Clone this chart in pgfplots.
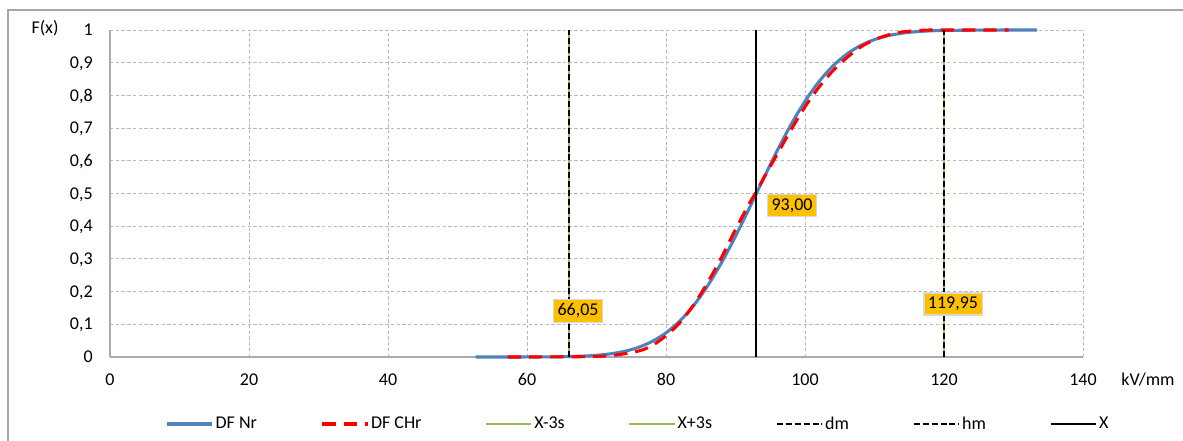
\documentclass[border=0pt]{standalone}
\usepackage{fontspec}
\setmainfont{Carlito}
\usepackage{pgfplots}
\pgfplotsset{compat=1.18}

\definecolor{nrblue}{RGB}{79,129,189}
\definecolor{olive3s}{RGB}{155,187,89}
\definecolor{lblgold}{RGB}{255,192,0}
\definecolor{lblborder}{RGB}{217,217,217}
\definecolor{framegray}{RGB}{166,166,166}
\definecolor{gridgray}{RGB}{185,185,185}
\definecolor{axisgray}{RGB}{170,170,170}

\newcommand{\chartfont}{\fontsize{13.5}{16}\selectfont}

\begin{document}
\begin{tikzpicture}[font=\chartfont]
\useasboundingbox (0,0) rectangle (887.25pt,-330.75pt);
% chart area frame
\draw[framegray, line width=1.1pt] (6pt,-330.75pt) -- (6pt,-7.5pt) -- (887.25pt,-7.5pt);

\begin{axis}[
  at={(82.5pt,-267.75pt)}, anchor=south west,
  scale only axis, width=729.75pt, height=245.25pt,
  xmin=0, xmax=140, ymin=0, ymax=1,
  xtick={0,20,40,60,80,100,120,140},
  ytick={0,0.1,0.2,0.3,0.4,0.5,0.6,0.7,0.8,0.9,1},
  major tick length=0pt,
  axis x line*=bottom, axis y line*=left,
  axis line style={axisgray, line width=0.8pt},
  grid=major,
  major grid style={gridgray, line width=0.6pt, dash pattern=on 2.5pt off 1.8pt},
  /pgf/number format/assume math mode=true,
  yticklabel style={/pgf/number format/use comma, /pgf/number format/fixed,
    /pgf/number format/precision=1},
  tick label style={font=\chartfont, inner sep=0pt},
  xticklabel style={anchor=base, yshift=-21.5pt},
  yticklabel style={anchor=base east, xshift=-12.75pt, yshift=-4.25pt},
  clip=false,
  legend columns=7,
  legend style={at={(axis description cs:0,0)}, anchor=west,
    xshift=41.25pt, yshift=-50.25pt, draw=none, fill=none,
    inner sep=0pt, font=\chartfont,
    nodes={inner sep=1.5pt},
    /tikz/every even column/.append style={column sep=46.25pt}},
  legend image code/.code={\draw[#1] (0pt,0pt) -- (34pt,0pt);},
]

% distribution function, normal fit
\addplot[nrblue, line width=2.3pt, smooth] coordinates {
 (52.6,0) (56,0.00002) (60,0.00012) (64,0.00062) (66,0.0013) (68,0.0027)
 (70,0.0052) (72,0.0097) (74,0.0172) (76,0.0292) (78,0.0475) (80,0.0739)
 (82,0.1103) (84,0.1582) (86,0.2180) (88,0.2888) (90,0.3692) (92,0.4557)
 (93,0.5) (94,0.5443) (96,0.6308) (98,0.7112) (100,0.7820) (102,0.8418)
 (104,0.8897) (106,0.9261) (108,0.9525) (110,0.9708) (112,0.9828)
 (114,0.9903) (116,0.9948) (118,0.9973) (120,0.9987) (124,0.99938)
 (128,0.99988) (133.4,1)};
\addlegendentry{DF Nr}

% distribution function, characteristic
\addplot[red, line width=2.3pt, dash pattern=on 10pt off 6pt, smooth] coordinates {
 (57.2,0) (60,0) (64,0.0003) (68,0.001) (72,0.004) (76,0.018) (78,0.035)
 (80,0.065) (82,0.105) (84,0.16) (86,0.228) (88,0.305) (90,0.39) (92,0.47)
 (93,0.505) (94,0.545) (96,0.62) (98,0.695) (100,0.765) (102,0.825)
 (104,0.875) (106,0.915) (108,0.948) (110,0.97) (112,0.985) (114,0.994)
 (116,0.998) (118,1) (122,1) (129.3,1)};
\addlegendentry{DF CHr}

\addplot[olive3s, line width=1.4pt] coordinates {(66.05,0) (66.05,1)};
\addlegendentry{X-3s}
\addplot[olive3s, line width=1.4pt] coordinates {(119.95,0) (119.95,1)};
\addlegendentry{X+3s}

\addplot[black, line width=1.6pt, dash pattern=on 4.5pt off 2.2pt] coordinates {(66.05,0) (66.05,1)};
\addlegendentry{dm}
\addplot[black, line width=1.6pt, dash pattern=on 4.5pt off 2.2pt] coordinates {(119.95,0) (119.95,1)};
\addlegendentry{hm}

\addplot[black, line width=1.6pt] coordinates {(93,0) (93,1)};
\addlegendentry{X}

% value labels
\tikzset{vallbl/.style={fill=lblgold, draw=lblborder, line width=0.8pt,
  inner xsep=3pt, inner ysep=3pt, font=\chartfont}}
\node[vallbl] at (axis cs:67.34,0.141) {66,05};
\node[vallbl] at (axis cs:98.13,0.462) {93,00};
\node[vallbl] at (axis cs:121.3,0.162) {119,95};

% axis titles
\node[anchor=base] at (rel axis cs:0,1) [xshift=-48.75pt, yshift=-2.5pt] {F(x)};
\node[anchor=base] at (rel axis cs:1,0) [xshift=48.75pt, yshift=-21.5pt] {kV/mm};
\end{axis}
\end{tikzpicture}
\end{document}
